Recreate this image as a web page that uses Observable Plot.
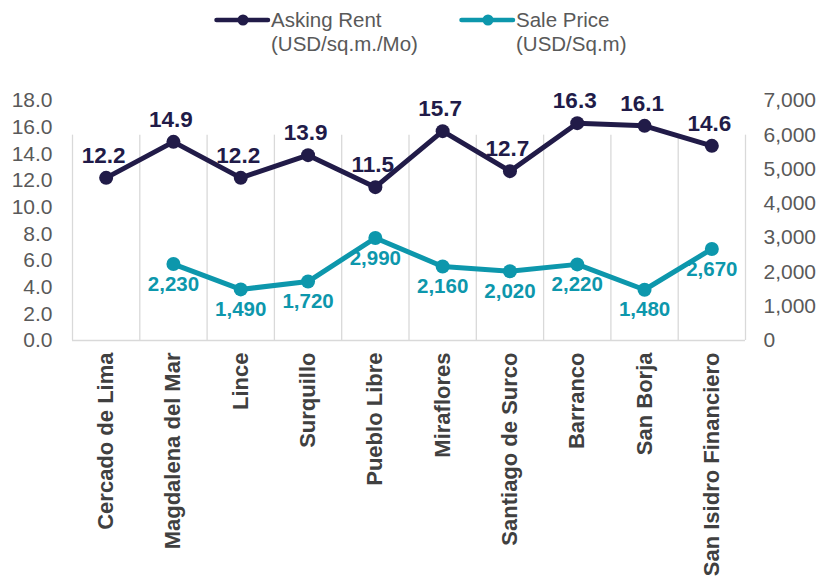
<!DOCTYPE html>
<html>
<head>
<meta charset="utf-8">
<script src="https://cdn.jsdelivr.net/npm/d3@7"></script>
<script src="https://cdn.jsdelivr.net/npm/@observablehq/plot@0.6"></script>
<style>
  html, body { margin: 0; padding: 0; background: #ffffff; }
  body { width: 827px; height: 582px; overflow: hidden; font-family: "Liberation Sans", Arial, sans-serif; }
  #legend { position: relative; height: 62px; width: 827px; }
  .item { position: absolute; top: 0; }
  .item svg { position: absolute; top: 12px; left: 0; }
  .lbl { position: absolute; left: 57px; top: 8px; font-size: 20.5px; line-height: 24px; color: #595959; white-space: nowrap; }
</style>
</head>
<body>
<div id="legend"></div>
<div id="chart"></div>
<script>
const categories = ["Cercado de Lima", "Magdalena del Mar", "Lince", "Surquillo", "Pueblo Libre",
  "Miraflores", "Santiago de Surco", "Barranco", "San Borja", "San Isidro Financiero"];
const askingRent = [12.2, 14.9, 12.2, 13.9, 11.5, 15.7, 12.7, 16.3, 16.1, 14.6];
const salePrice = [null, 2230, 1490, 1720, 2990, 2160, 2020, 2220, 1480, 2670];
const leftTicks = [0, 2, 4, 6, 8, 10, 12, 14, 16, 18];
const rightTicks = [0, 1000, 2000, 3000, 4000, 5000, 6000, 7000];
const seriesNames = [["Asking Rent", "(USD/sq.m./Mo)"], ["Sale Price", "(USD/Sq.m)"]];

const NAVY = "#211b48";
const TEAL = "#0d97ac";
const leftMax = 18, rightMax = 7000;
const k = leftMax / rightMax;
const gridTop = 15.4;

const rows = categories.map((c, i) => ({i, c, rent: askingRent[i], sale: salePrice[i], saleScaled: salePrice[i] == null ? null : salePrice[i] * k}));
const saleRows = rows.filter(d => d.sale != null);

// legend
const legend = document.getElementById("legend");
const legendPos = [214, 459];
const legendColors = [NAVY, TEAL];
seriesNames.forEach((n, j) => {
  const it = document.createElement("div");
  it.className = "item";
  it.style.left = legendPos[j] + "px";
  it.innerHTML = `<svg width="58" height="16"><line x1="2.5" y1="8" x2="54" y2="8" stroke="${legendColors[j]}" stroke-width="4.5" stroke-linecap="round"/><circle cx="29" cy="8" r="5.5" fill="${legendColors[j]}"/></svg><div class="lbl">${n[0]}<br>${n[1]}</div>`;
  legend.appendChild(it);
});

const chart = Plot.plot({
  width: 827,
  height: 520,
  marginTop: 38,
  marginBottom: 242,
  marginLeft: 72,
  marginRight: 82,
  style: {fontFamily: "'Liberation Sans', Arial, sans-serif", fontSize: "21px", background: "#ffffff", overflow: "visible"},
  x: {type: "linear", domain: [-0.5, categories.length - 0.5]},
  y: {domain: [0, leftMax]},
  marks: [
    Plot.ruleX(d3.range(categories.length + 1), {x: d => d - 0.5, y1: 0, y2: gridTop, stroke: "#d9d9d9", strokeWidth: 1.3}),
    Plot.ruleY([0], {stroke: "#d9d9d9", strokeWidth: 1.5}),
    Plot.axisY(leftTicks, {anchor: "left", tickSize: 0, tickPadding: 20, tickFormat: d => d.toFixed(1), fill: "#595959", fontSize: 21, label: null}),
    Plot.axisY(rightTicks.map(v => v * k), {anchor: "right", tickSize: 0, tickPadding: 18, tickFormat: d => d3.format(",")(Math.round(d / k)), fill: "#595959", fontSize: 21, label: null}),
    Plot.axisX(d3.range(categories.length), {anchor: "bottom", tickSize: 0, tickPadding: 12, tickRotate: -90, tickFormat: i => categories[i], fill: "#404040", fontSize: 22, fontWeight: "bold", label: null}),
    Plot.line(rows, {x: "i", y: "rent", stroke: NAVY, strokeWidth: 5}),
    Plot.dot(rows, {x: "i", y: "rent", r: 7, fill: NAVY}),
    Plot.text(rows, {x: "i", y: "rent", text: d => d.rent.toFixed(1), dy: -22, dx: -2.5, fill: NAVY, fontWeight: "bold", fontSize: 22.5}),
    Plot.line(saleRows, {x: "i", y: "saleScaled", stroke: TEAL, strokeWidth: 5}),
    Plot.dot(saleRows, {x: "i", y: "saleScaled", r: 7, fill: TEAL}),
    Plot.text(saleRows, {x: "i", y: "saleScaled", text: d => d3.format(",")(d.sale), dy: 20, fill: TEAL, fontWeight: "bold", fontSize: 20.5})
  ]
});
document.getElementById("chart").appendChild(chart);
</script>
</body>
</html>
